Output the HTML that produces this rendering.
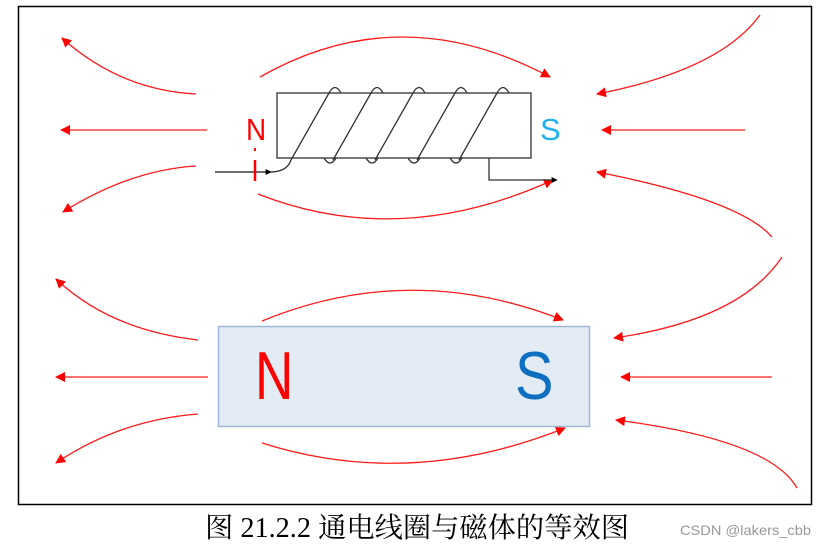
<!DOCTYPE html>
<html><head><meta charset="utf-8"><style>
html,body{margin:0;padding:0;background:#fff;width:826px;height:547px;overflow:hidden}
</style></head><body>
<svg width="826" height="547" viewBox="0 0 826 547" xmlns="http://www.w3.org/2000/svg">
<defs>
<marker id="ra" viewBox="0 0 10 10" refX="9" refY="5" markerWidth="10" markerHeight="10" markerUnits="userSpaceOnUse" orient="auto"><path d="M0,0 L10,5 L0,10 z" fill="#ff0000"/></marker>
<marker id="ka" viewBox="0 0 10 10" refX="9" refY="5" markerWidth="6" markerHeight="6" markerUnits="userSpaceOnUse" orient="auto"><path d="M0,0 L10,5 L0,10 z" fill="#000"/></marker>
</defs>
<rect x="18.5" y="6.5" width="793" height="498" fill="#fff" stroke="#000" stroke-width="1.5"/>
<g fill="none" stroke="#ff1a1a" stroke-width="1.3" marker-end="url(#ra)">
<path d="M260,77 Q400,-3 550,77"/>
<path d="M258,194 Q400,250 553,180"/>
<path d="M196,94 Q120,90 62,38"/>
<path d="M207,130 L61,130"/>
<path d="M196,166 Q130,170 63,212"/>
<path d="M760,15 Q720,70 597,94"/>
<path d="M745,130 L602,130"/>
<path d="M772,237 Q740,200 597,172"/>
<path d="M262,321 Q410,260 563,320"/>
<path d="M262,443 Q410,490 565,428"/>
<path d="M198,340 Q110,330 56,279"/>
<path d="M208,377 L56,377"/>
<path d="M198,414 Q120,420 56,463"/>
<path d="M782,257 Q740,320 614,338"/>
<path d="M772,377 L621,377"/>
<path d="M797,488 Q770,440 616,420"/>
</g>
<rect x="277" y="93" width="254" height="65" fill="#fff" stroke="#333" stroke-width="1.3"/>
<g fill="none" stroke="#333" stroke-width="1.3">
<path d="M291,160 L329,93 Q335,82 341,93"/>
<path d="M333,160 L371,93 Q377,82 383,93"/>
<path d="M375,160 L413,93 Q419,82 425,93"/>
<path d="M417,160 L455,93 Q461,82 467,93"/>
<path d="M459,160 L497,93 Q503,82 509,93"/>
<path d="M324,158 Q330,168 336,158"/>
<path d="M366,158 Q372,168 378,158"/>
<path d="M408,158 Q414,168 420,158"/>
<path d="M450,158 Q456,168 462,158"/>
<path d="M215,172 L270,172 Q287,172 291,160"/>
<path d="M489,158 L489,180 L557,180" marker-end="url(#ka)"/>
<path d="M215,172 L271,172" marker-end="url(#ka)"/>
</g>
<text x="246" y="140" font-family="Liberation Sans, sans-serif" font-size="31" fill="#ff0000" transform="translate(246,0) scale(0.9,1) translate(-246,0)">N</text>
<line x1="255" y1="148" x2="255" y2="151" stroke="#ff0000" stroke-width="2"/>
<line x1="255" y1="160" x2="255" y2="181" stroke="#ff0000" stroke-width="2.5"/>
<text x="540" y="140" font-family="Liberation Sans, sans-serif" font-size="31" fill="#1fb0ef">S</text>
<rect x="218.5" y="326.5" width="371" height="100" fill="#e3ebf4" stroke="#9fb8d8" stroke-width="1.5"/>
<text x="255" y="399" font-family="Liberation Sans, sans-serif" font-size="68" fill="#ff0000" transform="translate(255,0) scale(0.78,1) translate(-255,0)">N</text>
<text x="515" y="399" font-family="Liberation Sans, sans-serif" font-size="68" fill="#0e6fc0" transform="translate(515,0) scale(0.85,1) translate(-515,0)">S</text>
<text x="205" y="537" font-family="Liberation Serif, 'Noto Serif CJK SC', serif" font-size="28" fill="#000" textLength="424" lengthAdjust="spacingAndGlyphs">图 21.2.2  通电线圈与磁体的等效图</text>
<text x="680" y="535" font-family="Liberation Sans, sans-serif" font-size="14" fill="#999" textLength="131" lengthAdjust="spacingAndGlyphs">CSDN @lakers_cbb</text>
</svg>
</body></html>
